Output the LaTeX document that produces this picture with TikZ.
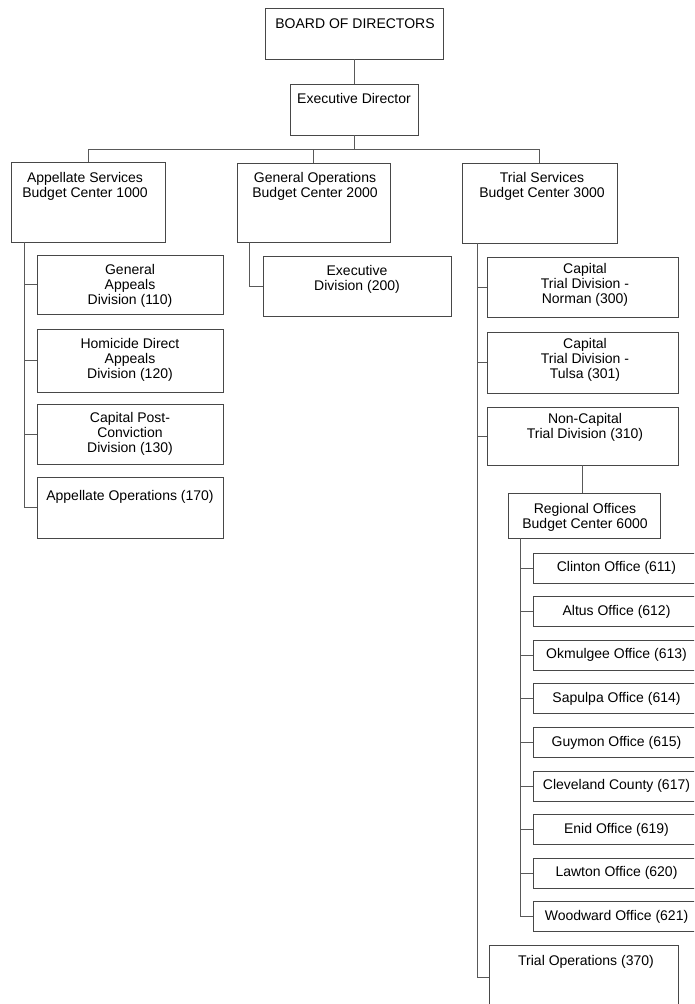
\documentclass[tikz,border=0pt]{standalone}
\usepackage{fontspec}
\setmainfont{Liberation Sans}
\begin{document}
\begin{tikzpicture}[x=1pt,y=-1pt,
  box/.style={draw=black!72,line width=0.8pt,inner sep=0pt,outer sep=0pt,anchor=north west},
  txt/.style={font=\fontsize{14}{15}\selectfont,align=center,inner sep=0pt,anchor=north},
  conn/.style={draw=black!65,line width=0.8pt}]
\fill[white] (0,0) rectangle (694,1004);
\useasboundingbox (0,0) rectangle (694,1004);
\clip (0,0) rectangle (694,1004);
% top
\node[box,minimum width=178pt,minimum height=51pt] (board) at (265,8) {};
\node[txt] (tboard) at (355,19) {BOARD OF DIRECTORS};
\node[box,minimum width=128pt,minimum height=51pt] (exec) at (290,84) {};
\node[txt] (texec) at (354,93) {Executive Director};
% level 2
\node[box,minimum width=154pt,minimum height=80pt] (app) at (11,162) {};
\node[txt] (tapp) at (85,172) {Appellate Services\\Budget Center 1000};
\node[box,minimum width=153pt,minimum height=79pt] (gen) at (237,163) {};
\node[txt] (tgen) at (315,172) {General Operations\\Budget Center 2000};
\node[box,minimum width=155pt,minimum height=80pt] (trial) at (462,163) {};
\node[txt] (ttrial) at (542,172) {Trial Services\\Budget Center 3000};
% appellate children
\node[box,minimum width=186pt,minimum height=59pt] (ga) at (37,255) {};
\node[txt] (tga) at (130,264) {General\\Appeals\\Division (110)};
\node[box,minimum width=186pt,minimum height=63pt] (hd) at (37,329) {};
\node[txt] (thd) at (130,338) {Homicide Direct\\Appeals\\Division (120)};
\node[box,minimum width=186pt,minimum height=60pt] (cp) at (37,404) {};
\node[txt] (tcp) at (130,412) {Capital Post-\\Conviction\\Division (130)};
\node[box,minimum width=186pt,minimum height=61pt] (ao) at (37,477) {};
\node[txt] (tao) at (130,490) {Appellate Operations (170)};
% general child
\node[box,minimum width=188pt,minimum height=60pt] (ed) at (263,256) {};
\node[txt] (ted) at (357,265) {Executive\\Division (200)};
% trial children
\node[box,minimum width=191pt,minimum height=60pt] (cn) at (487,257) {};
\node[txt] (tcn) at (585,263) {Capital\\Trial Division -\\Norman (300)};
\node[box,minimum width=191pt,minimum height=61pt] (ct) at (487,332) {};
\node[txt] (tct) at (585,338) {Capital\\Trial Division -\\Tulsa (301)};
\node[box,minimum width=191pt,minimum height=58pt] (nc) at (487,407) {};
\node[txt] (tnc) at (585,413) {Non-Capital\\Trial Division (310)};
\node[box,minimum width=152pt,minimum height=45pt] (reg) at (508,493) {};
\node[txt] (treg) at (585,503) {Regional Offices\\Budget Center 6000};
% offices
\foreach \n/\t [count=\i from 0] in {o1/Clinton Office (611),o2/Altus Office (612),o3/Okmulgee Office (613),o4/Sapulpa Office (614),o5/Guymon Office (615),o6/Cleveland County (617),o7/Enid Office (619),o8/Lawton Office (620),o9/Woodward Office (621)}{
  \node[box,minimum width=167pt,minimum height=30pt] (\n) at (533,553+43.6*\i) {};
  \node[txt,anchor=center] (t\n) at (\n.center) {\t};
}
\node[box,minimum width=189pt,minimum height=64pt] (tops) at (489,945) {};
\node[txt] (ttops) at (586,955) {Trial Operations (370)};
% connectors
\coordinate (bus) at (354,149);
\draw[conn] (board.south) -- (exec.north);
\draw[conn] (exec.south) -- (bus);
\draw[conn] (app.north) -- (app.north |- bus) -- (trial.north |- bus) -- (trial.north);
\draw[conn] (gen.north) -- (gen.north |- bus);
% appellate spine
\coordinate (aspine) at (24,0);
\draw[conn] (aspine |- app.south) |- (ao.west);
\foreach \n in {ga,hd,cp}{\draw[conn] (\n.west) -- (\n.west -| aspine);}
% general
\coordinate (gspine) at (249,0);
\draw[conn] (gspine |- gen.south) |- (ed.west);
% trial spine
\coordinate (tspine) at (477,0);
\draw[conn] (tspine |- trial.south) |- (tops.west);
\foreach \n in {cn,ct,nc}{\draw[conn] (\n.west) -- (\n.west -| tspine);}
\draw[conn] (nc.south) -- (nc.south |- reg.north);
% regional spine
\coordinate (rspine) at (520,0);
\draw[conn] (rspine |- reg.south) |- (o9.west);
\foreach \n in {o1,o2,o3,o4,o5,o6,o7,o8}{\draw[conn] (\n.west) -- (\n.west -| rspine);}
\end{tikzpicture}
\end{document}
